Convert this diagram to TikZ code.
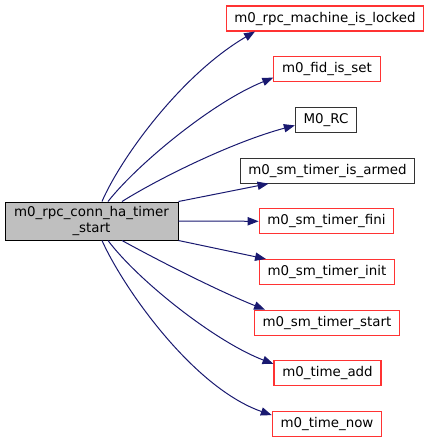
\documentclass[tikz,border=0pt]{standalone}
\usepackage{xcolor}
\usepackage{fontspec}
\setmainfont{DejaVu Sans}
\usepackage{tikz}
\usetikzlibrary{arrows.meta, calc}

\definecolor{edgeblue}{HTML}{191970}
\definecolor{fnred}{HTML}{FF3333}
\definecolor{callergray}{HTML}{BFBFBF}

\begin{document}
\begin{tikzpicture}[
  x=0.75pt, y=-0.75pt,
  every node/.style={font=\fontsize{10.05}{11.8}\selectfont},
  fnbox/.style={rectangle, draw=#1, line width=0.8pt, fill=white,
                minimum height=18.75pt, inner xsep=6.2pt, inner ysep=0pt},
  caller/.style={rectangle, draw=black, line width=0.75pt, fill=callergray,
                 minimum width=129.75pt, minimum height=28.5pt, align=center,
                 inner sep=0pt},
  call/.style={-{Triangle[length=8.2pt, width=6.2pt]}, edgeblue, line width=0.75pt},
]
\useasboundingbox (0,0) rectangle (433,443);

% caller
\node[caller] (main) at (91.5,221) {m0\_rpc\_conn\_ha\_timer\\\_start};

% callees
\foreach \nm/\x/\txt/\c [count=\i from 0] in {
    lock/325/m0\_rpc\_machine\_is\_locked/fnred,
    fid/327/m0\_fid\_is\_set/fnred,
    rc/326/M0\_RC/black!80,
    armed/327.5/m0\_sm\_timer\_is\_armed/black!80,
    fini/326.5/m0\_sm\_timer\_fini/fnred,
    init/327/m0\_sm\_timer\_init/fnred,
    start/327/m0\_sm\_timer\_start/fnred,
    add/327.5/m0\_time\_add/fnred,
    now/327/m0\_time\_now/fnred} {
  \node[fnbox=\c] (\nm) at (\x, 18.5+50.7*\i) {\txt};
}

% calls, upper fan
\draw[call] ($(main.north)+(10.5,0)$) .. controls +(18,-42) and +(-75,44) .. ($(lock.south)+(-70,0)$);
\draw[call] ($(main.north)+(16.5,0)$) .. controls +(30,-38) and +(-60,24) .. ($(fid.west)+(0,8.5)$);
\draw[call] ($(main.north)+(30.5,0)$) .. controls +(40,-25) and +(-60,16) .. ($(rc.west)+(0,5.5)$);
\draw[call] (main.north east) -- ($(armed.south)+(-59,0)$);

% straight
\draw[call] (main.east) -- (fini.west);

% calls, lower fan
\draw[call] (main.south east) -- ($(init.north)+(-61,0)$);
\draw[call] ($(main.south)+(30.5,0)$) .. controls +(40,22) and +(-45,-18) .. ($(start.north)+(-62,0)$);
\draw[call] ($(main.south)+(16.5,0)$) .. controls +(30,40) and +(-58,-22) .. ($(add.west)+(0,-9.5)$);
\draw[call] ($(main.south)+(10.5,0)$) .. controls +(20,45) and +(-80,-28) .. ($(now.west)+(0,-9)$);
\end{tikzpicture}
\end{document}
